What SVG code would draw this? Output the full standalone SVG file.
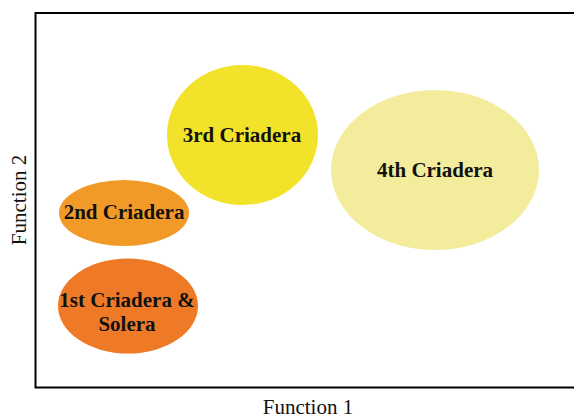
<svg xmlns="http://www.w3.org/2000/svg" width="574" height="419" viewBox="0 0 574 419">
<style>
.lbl{font-family:"Liberation Serif","Times New Roman",serif;font-weight:bold;font-size:21px;fill:#111;text-anchor:middle}
.ax{font-family:"Liberation Serif","Times New Roman",serif;font-size:21px;fill:#111;text-anchor:middle}
</style>
<rect width="574" height="419" fill="#fff"/>
<rect x="35.5" y="13" width="560" height="374.5" fill="none" stroke="#000" stroke-width="2"/>
<g id="n4"><ellipse cx="435" cy="170" rx="104" ry="80" fill="#f3ec9c"/><text class="lbl" x="435" y="177">4th Criadera</text></g>
<g id="n3"><ellipse cx="242.5" cy="135" rx="75.5" ry="70" fill="#f2e229"/><text class="lbl" x="242" y="142">3rd Criadera</text></g>
<g id="n2"><ellipse cx="124" cy="213" rx="65" ry="33" fill="#f29a27"/><text class="lbl" x="124" y="219">2nd Criadera</text></g>
<g id="n1"><ellipse cx="128" cy="306" rx="70" ry="47.5" fill="#ee7a28"/><text class="lbl" x="127" y="307">1st Criadera &amp;</text><text class="lbl" x="127" y="331">Solera</text></g>
<g id="connectors"></g>
<text class="ax" x="308" y="414">Function 1</text>
<text class="ax" transform="translate(26,200) rotate(-90)">Function 2</text>
</svg>
